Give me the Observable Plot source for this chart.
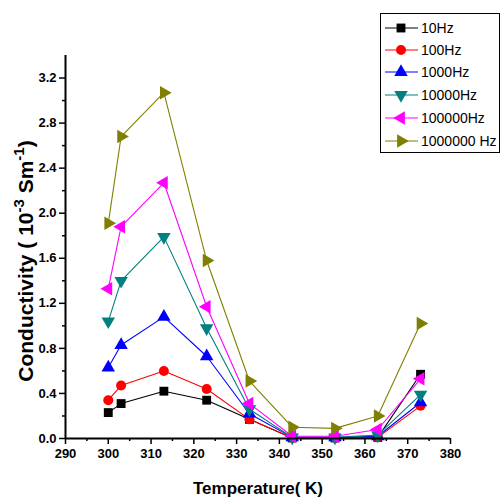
<!DOCTYPE html>
<html><head><meta charset="utf-8">
<script src="https://cdn.jsdelivr.net/npm/d3@7"></script>
<script src="https://cdn.jsdelivr.net/npm/@observablehq/plot@0.6"></script>
<style>
html,body{margin:0;padding:0;background:#fff;}
#chart{position:relative;width:502px;height:502px;}
#chart svg text{font-weight:bold;}
#chart svg g.legend text{font-weight:normal;}
</style>
</head><body><div id="chart"></div>
<script>
const temps = [300, 303, 313, 323, 333, 343, 353, 363, 373];
const seriesLabels = ["10Hz", "100Hz", "1000Hz", "10000Hz", "100000Hz", "1000000 Hz"];
const s10      = [0.23, 0.31, 0.42, 0.34, 0.17, 0.005, 0.005, 0.01, 0.57];
const s100     = [0.34, 0.47, 0.60, 0.44, 0.17, 0.005, 0.005, 0.01, 0.29];
const s1000    = [0.63, 0.83, 1.08, 0.73, 0.22, 0.01, 0.01, 0.02, 0.32];
const s10000   = [1.04, 1.40, 1.79, 0.98, 0.26, 0.01, 0.01, 0.03, 0.39];
const s100000  = [1.33, 1.88, 2.27, 1.17, 0.31, 0.02, 0.02, 0.08, 0.53];
const s1000000 = [1.91, 2.68, 3.07, 1.58, 0.51, 0.10, 0.09, 0.20, 1.02];
const xTicks = [290, 300, 310, 320, 330, 340, 350, 360, 370, 380];
const yTicks = [0.0, 0.4, 0.8, 1.2, 1.6, 2.0, 2.4, 2.8, 3.2];
const xLabel = "Temperature( K)";

const allSeries = [s10, s100, s1000, s10000, s100000, s1000000];
const colors = ["#000000", "#ff0000", "#0000ff", "#008080", "#ff00ff", "#808000"];

function tri(ax, ay) {
  return {draw(ctx, size) {
    const R = Math.sqrt(size / 1.299);
    const a0 = Math.atan2(ay, ax);
    for (let i = 0; i < 3; i++) {
      const a = a0 + i * 2 * Math.PI / 3;
      const x = R * Math.cos(a), y = R * Math.sin(a);
      if (i === 0) ctx.moveTo(x, y); else ctx.lineTo(x, y);
    }
    ctx.closePath();
  }};
}
const square = {draw(ctx, size){ const s = Math.sqrt(size) / 2; ctx.rect(-s, -s, 2*s, 2*s); }};
const circle = {draw(ctx, size){ const r = Math.sqrt(size / Math.PI); ctx.moveTo(r,0); ctx.arc(0,0,r,0,2*Math.PI); }};
const symbols = [square, circle, tri(0,-1), tri(0,1), tri(-1,0), tri(1,0)];
const symSizes = [5, 5, 5, 5, 5, 5];

const data = [];
allSeries.forEach((s, k) => s.forEach((v, i) => data.push({k, label: seriesLabels[k], t: temps[i], v})));

const font = "'Liberation Sans Narrow','Arial Narrow','Liberation Sans',Arial,sans-serif";
const marks = [];
allSeries.forEach((s, k) => {
  const d = data.filter(r => r.k === k);
  marks.push(Plot.line(d, {x: "t", y: "v", stroke: colors[k], strokeWidth: 1.1}));
});
allSeries.forEach((s, k) => {
  const d = data.filter(r => r.k === k);
  marks.push(Plot.dot(d, {x: "t", y: "v", fill: colors[k], stroke: "none", symbol: symbols[k], r: symSizes[k]}));
});

const minorX = d3.range(295, 380, 10);
const minorY = d3.range(0.2, 3.4, 0.4);

const plot = Plot.plot({
  width: 502, height: 502,
  marginLeft: 65, marginRight: 52, marginTop: 55, marginBottom: 64,
  style: {fontFamily: font, background: "#fff"},
  x: {domain: [290, 380]},
  y: {domain: [0, 3.4]},
  marks: [
    ...marks,
    Plot.axisX(xTicks, {tickSize: 6, tickPadding: 4, fontSize: 13, tickFormat: d => d, label: null, strokeWidth: 1.5}),
    Plot.axisX(minorX, {tickSize: 3, text: null, label: null, strokeWidth: 1.5}),
    Plot.axisY(yTicks, {tickSize: 6, tickPadding: 3, fontSize: 13, tickFormat: d => d.toFixed(1), label: null, strokeWidth: 1.5}),
    Plot.axisY(minorY, {tickSize: 3, text: null, label: null, strokeWidth: 1.5}),
    Plot.ruleY([0], {stroke: "#000", strokeWidth: 2}),
    Plot.ruleX([290], {stroke: "#000", strokeWidth: 2}),
    Plot.text([xLabel], {frameAnchor: "bottom", dy: 55, fontSize: 17, fill: "#000"})
  ]
});
document.getElementById("chart").appendChild(plot);

const svg = d3.select(plot);
// y axis label with superscripts
const yl = svg.append("text")
  .attr("transform", "translate(33,261) rotate(-90)")
  .attr("text-anchor", "middle")
  .attr("font-size", 21).attr("fill", "#000")
  .attr("font-family", font);
yl.append("tspan").text("Conductivity ( 10");
yl.append("tspan").attr("dy", -9).attr("font-size", 15).text("-3");
yl.append("tspan").attr("dy", 9).text(" Sm");
yl.append("tspan").attr("dy", -9).attr("font-size", 15).text("-1");
yl.append("tspan").attr("dy", 9).text(")");

// legend
const lg = svg.append("g").attr("class", "legend").attr("font-family", "'Liberation Sans',Arial,sans-serif");
lg.append("rect").attr("x", 380.5).attr("y", 13.5).attr("width", 119).attr("height", 139)
  .attr("fill", "#fff").attr("stroke", "#000").attr("stroke-width", 1);
const rows = [28, 50, 72, 95, 118, 141];
seriesLabels.forEach((lab, k) => {
  const y = rows[k];
  lg.append("line").attr("x1", 385).attr("x2", 418).attr("y1", y).attr("y2", y).attr("stroke", colors[k]).attr("stroke-width", 1.1);
  lg.append("path").attr("transform", `translate(401,${y})`).attr("fill", colors[k])
    .attr("d", d3.symbol(symbols[k], Math.PI * 25)());
  lg.append("text").attr("x", 421).attr("y", y + 5).attr("text-anchor", "start").attr("font-size", 14).attr("fill", "#000").text(lab);
});
</script></body></html>
